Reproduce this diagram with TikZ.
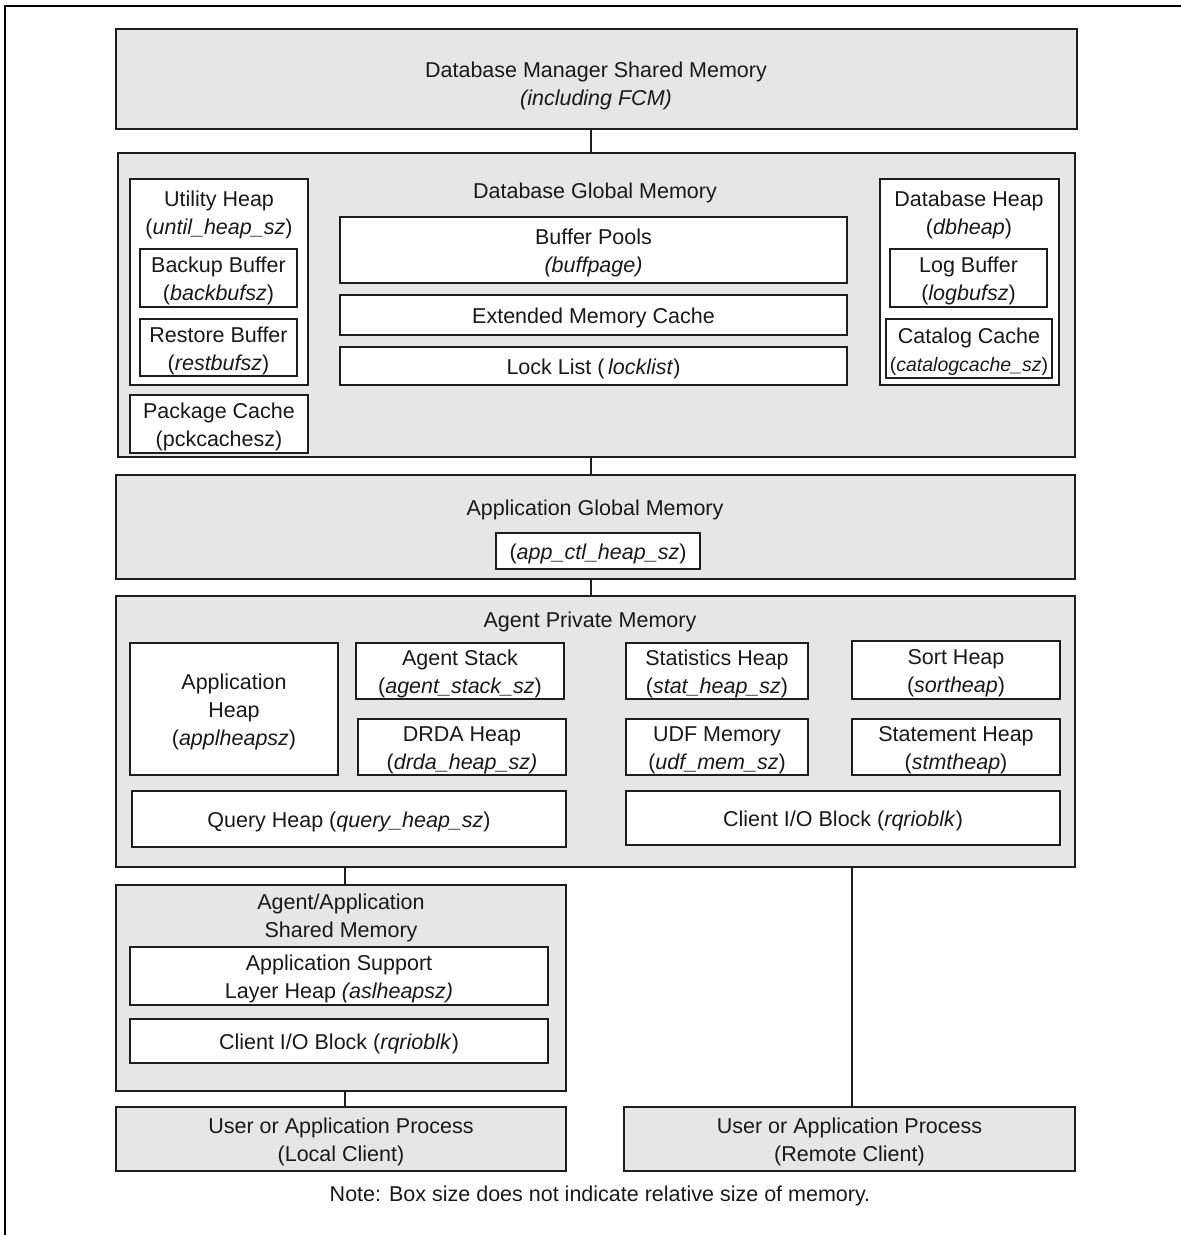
\documentclass[tikz,border=0pt]{standalone}
\usepackage{fontspec}
\setmainfont{Liberation Sans}
\definecolor{boxgray}{RGB}{230,230,230}
\definecolor{linec}{RGB}{30,30,30}
\newcommand\mybox[7]{\node[#6, minimum width={(#4-#2)*1pt}, minimum height={(#5-#3)*1pt}] (#1) at ({(#2+#4)/2},{(#3+#5)/2}) {};
  \node[lbl] (#1t) at ({(#2+#4)/2},{(#3+#5)/2+3}) {#7};}
\begin{document}
\begin{tikzpicture}[x=1pt,y=-1pt,
  every node/.style={inner sep=0pt, outer sep=0pt, align=center, font=\fontsize{21.5}{28}\selectfont, text=black!90},
  container/.style={draw=linec, line width=1.8pt, fill=boxgray},
  inner/.style={draw=linec, line width=1.6pt, fill=white},
  conn/.style={draw=linec, line width=1.6pt},
  lbl/.style={}]
\useasboundingbox (0,0) rectangle (1181,1235);
% frame
\draw[line width=1.5pt] (1181,6) -- (5,6) -- (5,1235);
% top
\mybox{dbm}{116}{29}{1077}{129}{container}{}
\node[lbl] (dbmtt) at (596,86) {Database Manager Shared Memory\\ \textit{(including FCM)}};
% database global memory
\mybox{dgm}{118}{153}{1075}{457}{container}{}
\node[lbl] (dgmt) at (595,193) {Database Global Memory};
\mybox{uh}{130}{179}{308}{385}{inner}{}
\node[lbl] (uht) at (219,215) {Utility Heap\\(\textit{until\_heap\_sz})};
\mybox{bb}{140}{249}{297}{307}{inner}{Backup Buffer\\(\textit{backbufsz})}
\mybox{rb}{140}{319}{297}{376}{inner}{Restore Buffer\\(\textit{restbufsz})}
\mybox{pc}{130}{395}{308}{453}{inner}{Package Cache\\(pckcachesz)}
\mybox{bp}{340}{217}{847}{283}{inner}{Buffer Pools\\ \textit{(buffpage)}}
\mybox{emc}{340}{295}{847}{335}{inner}{Extended Memory Cache}
\mybox{ll}{340}{347}{847}{385}{inner}{Lock List (\,\textit{locklist})}
\mybox{dh}{880}{179}{1059}{385}{inner}{}
\node[lbl] (dht) at (969,215) {Database Heap\\(\textit{dbheap})};
\mybox{lb}{890}{249}{1047}{307}{inner}{Log Buffer\\(\textit{logbufsz})}
\mybox{cc}{886}{319}{1052}{378}{inner}{Catalog Cache\\{\fontsize{19.5}{28}\selectfont(\textit{catalogcache\_sz})}}
% application global memory
\mybox{agm}{116}{475}{1075}{579}{container}{}
\node[lbl] (agmt) at (595,510) {Application Global Memory};
\mybox{ach}{496}{533}{700}{569}{inner}{(\textit{app\_ctl\_heap\_sz})}
% agent private memory
\mybox{apm}{116}{596}{1075}{867}{container}{}
\node[lbl] (apmt) at (590,622) {Agent Private Memory};
\mybox{ah}{130}{643}{338}{775}{inner}{Application\\Heap\\(\textit{applheapsz})}
\mybox{as}{356}{643}{564}{699}{inner}{Agent Stack\\(\textit{agent\_stack\_sz})}
\mybox{drda}{358}{719}{566}{775}{inner}{DRDA Heap\\(\textit{drda\_heap\_sz)}}
\mybox{sh}{626}{643}{808}{699}{inner}{Statistics Heap\\(\textit{stat\_heap\_sz})}
\mybox{soh}{852}{641}{1060}{699}{inner}{Sort Heap\\(\textit{sortheap})}
\mybox{udf}{626}{719}{808}{775}{inner}{UDF Memory\\(\textit{udf\_mem\_sz})}
\mybox{sth}{852}{719}{1060}{775}{inner}{Statement Heap\\(\textit{stmtheap})}
\mybox{qh}{132}{791}{566}{847}{inner}{Query Heap (\textit{query\_heap\_sz})}
\mybox{cio}{626}{791}{1060}{845}{inner}{Client I/O Block (\textit{rqrioblk})}
% agent/application shared memory
\mybox{aas}{116}{885}{566}{1091}{container}{}
\node[lbl] (aast) at (341,918) {Agent/Application\\Shared Memory};
\mybox{asl}{130}{947}{548}{1005}{inner}{Application Support\\Layer Heap \textit{(aslheapsz)}}
\mybox{cio2}{130}{1019}{548}{1063}{inner}{Client I/O Block (\textit{rqrioblk})}
% clients
\mybox{lc}{116}{1107}{566}{1171}{container}{User or Application Process\\(Local Client)}
\mybox{rc}{624}{1107}{1075}{1171}{container}{User or Application Process\\(Remote Client)}
\node[lbl] (note) at (600,1196) {Note: Box size does not indicate relative size of memory.};
% connectors
\draw[conn] (dbm.south -| 591,0) -- (dgm.north -| 591,0);
\draw[conn] (dgm.south -| 591,0) -- (agm.north -| 591,0);
\draw[conn] (agm.south -| 591,0) -- (apm.north -| 591,0);
\draw[conn] (apm.south -| 345,0) -- (aas.north -| 345,0);
\draw[conn] (aas.south -| 345,0) -- (lc.north -| 345,0);
\draw[conn] (apm.south -| 852,0) -- (rc.north -| 852,0);
\end{tikzpicture}
\end{document}
